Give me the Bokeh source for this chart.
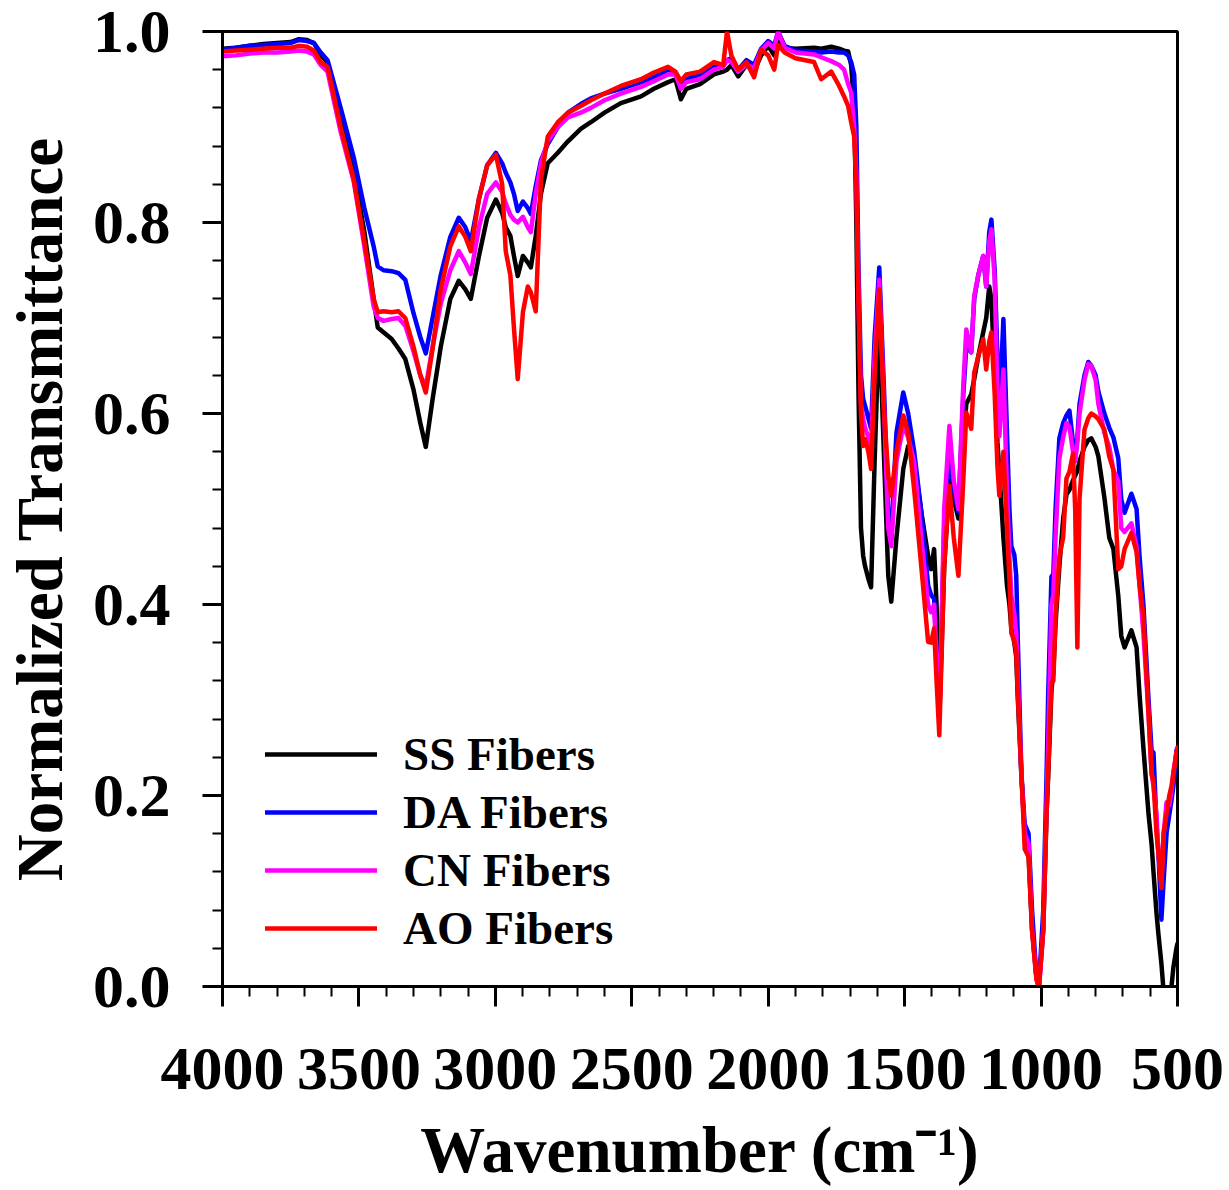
from bokeh.plotting import figure
from bokeh.models import Range1d, FixedTicker, PrintfTickFormatter, Legend, LegendItem
from bokeh.embed import file_html
from bokeh.resources import INLINE

# ---------------- data ----------------
wavenumber = [
    4000, 3950, 3900, 3850, 3800, 3750, 3720, 3690, 3665, 3640,
    3615, 3567, 3519, 3480, 3446, 3431, 3410, 3380, 3355, 3330,
    3300, 3275, 3255, 3230, 3200, 3165, 3134, 3110, 3090, 3060,
    3030, 2998, 2975, 2962, 2945, 2932, 2918, 2899, 2881, 2870,
    2852, 2833, 2808, 2771, 2734, 2687, 2650, 2600, 2540, 2466,
    2419, 2367, 2340, 2320, 2300, 2250, 2199, 2165, 2151, 2135,
    2110, 2080, 2052, 2026, 2000, 1978, 1964, 1940, 1900, 1832,
    1806, 1769, 1740, 1722, 1707, 1696, 1685, 1677, 1669, 1660,
    1652, 1645, 1633, 1623, 1610, 1593, 1575, 1560, 1549, 1530,
    1505, 1487, 1465, 1439, 1414, 1403, 1392, 1383, 1373, 1355,
    1336, 1320, 1303, 1285, 1274, 1256, 1245, 1230, 1212, 1201,
    1190, 1182, 1170, 1160, 1153, 1138, 1125, 1116, 1109, 1098,
    1091, 1085, 1072, 1060, 1046, 1033, 1017, 1008, 992, 980,
    974, 962, 955, 947, 933, 919, 907, 896, 883, 875,
    867, 859, 841, 827, 816, 800, 790, 768, 750, 735,
    717, 706, 694, 669, 650, 639, 625, 606, 595, 588,
    577, 570, 559, 551, 540, 530, 522, 515, 504, 500,
]

ss_fibers = [
    .982, .983, .985, .987, .988, .989, .992, .991, .988, .975,
    .968, .912, .855, .790, .720, .690, .685, .678, .668, .657,
    .625, .590, .565, .615, .670, .720, .739, .730, .720, .765,
    .805, .824, .810, .795, .786, .765, .744, .765, .758, .753,
    .786, .830, .862, .873, .885, .898, .905, .915, .925, .932,
    .940, .947, .950, .929, .940, .945, .955, .958, .960, .965,
    .953, .965, .958, .975, .985, .975, .990, .983, .982, .983,
    .982, .984, .982, .980, .979, .965, .920, .800, .620, .480,
    .451, .440, .427, .418, .550, .700, .550, .430, .403, .470,
    .542, .566, .549, .497, .451, .437, .458, .400, .280, .440,
    .530, .510, .490, .570, .610, .620, .636, .660, .685, .700,
    .733, .720, .640, .570, .540, .470, .420, .400, .375, .360,
    .345, .300, .220, .160, .140, .060, .010, .000, .060, .180,
    .220, .310, .330, .380, .440, .490, .515, .520, .530, .535,
    .540, .550, .565, .572, .574, .565, .555, .512, .470, .458,
    .409, .367, .355, .373, .355, .305, .250, .180, .149, .120,
    .077, .055, .024, -.005, -.030, -.010, .000, .020, .040, .045,
]

da_fibers = [
    .981, .983, .985, .986, .987, .988, .991, .990, .988, .978,
    .970, .920, .868, .815, .775, .754, .750, .749, .747, .740,
    .705, .680, .663, .700, .745, .785, .805, .795, .780, .825,
    .860, .873, .862, .852, .842, .830, .812, .822, .815, .809,
    .838, .865, .882, .900, .915, .924, .930, .935, .940, .947,
    .952, .960, .957, .945, .950, .955, .963, .965, .970, .972,
    .960, .970, .965, .982, .990, .985, 1.00, .985, .980, .979,
    .978, .979, .978, .978, .975, .968, .955, .900, .750, .640,
    .615, .608, .595, .584, .680, .753, .620, .490, .475, .580,
    .622, .600, .560, .497, .420, .410, .406, .350, .285, .480,
    .560, .520, .497, .620, .670, .664, .720, .745, .765, .733,
    .790, .803, .750, .660, .601, .699, .580, .500, .461, .452,
    .430, .360, .223, .170, .160, .080, .010, .000, .080, .220,
    .305, .429, .432, .500, .574, .590, .598, .603, .570, .553,
    .575, .610, .640, .654, .650, .640, .623, .600, .585, .575,
    .553, .510, .496, .516, .500, .450, .400, .300, .247, .245,
    .170, .140, .070, .110, .161, .180, .195, .210, .247, .250,
]

cn_fibers = [
    .974, .975, .977, .978, .978, .979, .980, .979, .976, .965,
    .958, .895, .843, .775, .712, .700, .697, .699, .700, .692,
    .665, .640, .628, .670, .715, .750, .770, .758, .746, .795,
    .830, .842, .832, .820, .808, .803, .800, .806, .795, .790,
    .830, .862, .885, .900, .910, .915, .920, .928, .935, .942,
    .948, .955, .955, .940, .947, .950, .960, .963, .970, .968,
    .958, .965, .962, .980, .988, .982, 1.00, .983, .978, .976,
    .973, .969, .965, .960, .945, .936, .900, .850, .720, .610,
    .594, .585, .575, .566, .660, .740, .600, .480, .461, .550,
    .587, .575, .549, .470, .400, .392, .400, .340, .280, .500,
    .587, .530, .500, .630, .688, .664, .723, .745, .765, .733,
    .780, .793, .740, .620, .576, .646, .520, .450, .410, .390,
    .370, .320, .220, .160, .150, .060, .010, -.005, .060, .190,
    .250, .400, .410, .470, .553, .575, .590, .586, .560, .550,
    .570, .600, .635, .652, .650, .635, .610, .580, .565, .541,
    .529, .480, .476, .485, .460, .420, .370, .285, .223, .210,
    .180, .140, .107, .160, .193, .190, .205, .225, .245, .250,
]

ao_fibers = [
    .979, .980, .981, .982, .983, .983, .985, .984, .980, .968,
    .963, .900, .845, .780, .720, .706, .707, .706, .707, .700,
    .670, .640, .622, .668, .730, .775, .796, .785, .770, .825,
    .860, .871, .840, .770, .745, .690, .636, .706, .733, .727,
    .707, .845, .890, .905, .915, .922, .928, .935, .943, .950,
    .957, .963, .958, .948, .955, .958, .968, .965, 1.00, .975,
    .960, .968, .952, .981, .975, .960, .986, .978, .972, .968,
    .950, .958, .943, .932, .922, .905, .890, .840, .720, .600,
    .566, .573, .560, .542, .640, .730, .600, .535, .514, .560,
    .598, .580, .520, .440, .361, .360, .375, .320, .263, .440,
    .524, .470, .430, .530, .601, .584, .643, .660, .678, .646,
    .675, .685, .620, .545, .514, .560, .480, .427, .370, .362,
    .350, .305, .223, .144, .136, .058, .007, .000, .058, .181,
    .223, .318, .320, .388, .450, .470, .532, .539, .558, .500,
    .355, .511, .583, .595, .600, .597, .594, .583, .555, .541,
    .437, .440, .458, .475, .455, .420, .388, .285, .223, .214,
    .160, .140, .103, .160, .181, .200, .210, .223, .244, .250,
]

series_names = ["SS Fibers", "DA Fibers", "CN Fibers", "AO Fibers"]
series_colors = ["#000000", "#0000FF", "#FF00FF", "#FF0000"]
x_major_ticks = [4000, 3500, 3000, 2500, 2000, 1500, 1000, 500]
x_minor_ticks = list(range(500, 4001, 100))
y_major_ticks = [0.0, 0.2, 0.4, 0.6, 0.8, 1.0]
y_minor_ticks = [round(i * 0.04, 2) for i in range(26)]

FONT = "Liberation Serif"

p = figure(
    width=1225, height=1188,
    x_range=Range1d(4000, 500), y_range=Range1d(0, 1.0),
    output_backend="svg", toolbar_location=None,
    min_border_left=222, min_border_right=48,
    min_border_top=31, min_border_bottom=200,
    background_fill_color="white", border_fill_color="white",
)
p.grid.visible = False
p.outline_line_color = "black"
p.outline_line_width = 3

for ax in (p.xaxis[0], p.yaxis[0]):
    ax.axis_line_width = 3
    ax.axis_line_color = "black"
    ax.major_tick_line_width = 3
    ax.minor_tick_line_width = 2
    ax.major_tick_in = 0
    ax.minor_tick_in = 0
    ax.major_tick_out = 20
    ax.minor_tick_out = 10
    ax.major_label_text_font = FONT
    ax.major_label_text_font_style = "bold"
    ax.major_label_text_font_size = "62px"
    ax.major_label_text_color = "black"
    ax.axis_label_text_font = FONT
    ax.axis_label_text_font_style = "bold"
    ax.axis_label_text_font_size = "65px"
    ax.axis_label_text_color = "black"

p.xaxis.ticker = FixedTicker(ticks=x_major_ticks, minor_ticks=x_minor_ticks)
p.yaxis.ticker = FixedTicker(ticks=y_major_ticks, minor_ticks=y_minor_ticks)
p.yaxis.formatter = PrintfTickFormatter(format="%.1f")
p.xaxis.major_label_standoff = 42
p.yaxis.major_label_standoff = 32
p.xaxis.axis_label = "Wavenumber (cm\u207b\u00b9)"
p.yaxis.axis_label = "Normalized Transmittance"
p.xaxis.axis_label_standoff = 22
p.yaxis.axis_label_standoff = 14

all_series = [ss_fibers, da_fibers, cn_fibers, ao_fibers]
items = []
for name, color, vals in zip(series_names, series_colors, all_series):
    r = p.line(wavenumber, vals, line_color=color, line_width=4.5,
               line_join="round", line_cap="round")
    items.append(LegendItem(label=name, renderers=[r]))

legend = Legend(items=items, location=(43, 31))
legend.border_line_color = None
legend.background_fill_alpha = 0
legend.padding = 0
legend.margin = 0
legend.spacing = 4
legend.glyph_width = 112
legend.glyph_height = 46
legend.label_height = 46
legend.label_standoff = 26
legend.label_text_font = FONT
legend.label_text_font_style = "bold"
legend.label_text_font_size = "47px"
legend.label_text_color = "black"
legend.label_text_baseline = "middle"
p.add_layout(legend, "center")

open("out.html", "w").write(file_html(p, INLINE))
